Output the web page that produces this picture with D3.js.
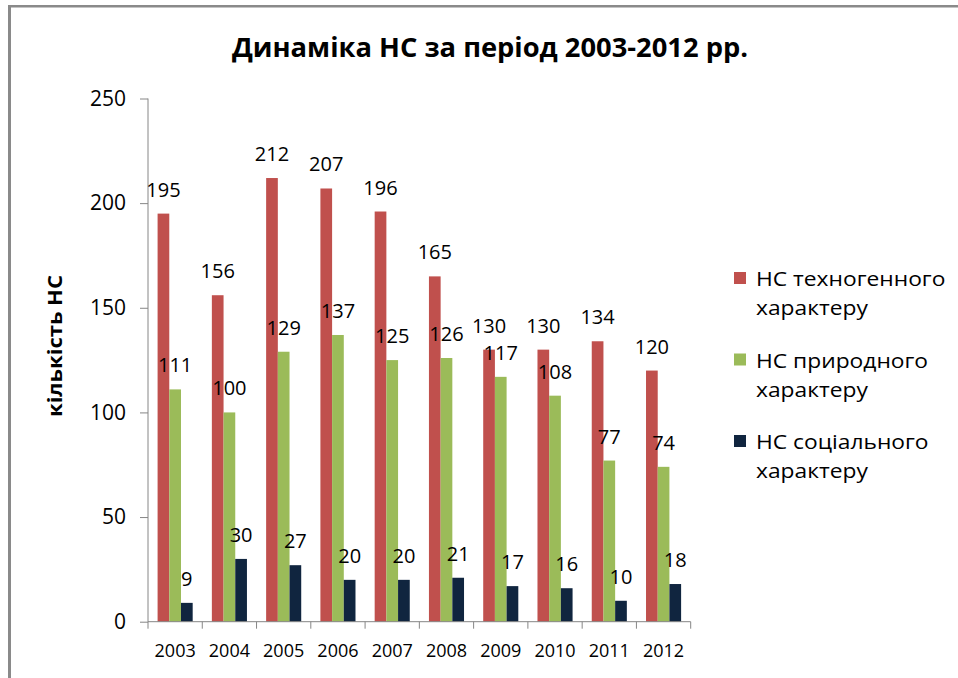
<!DOCTYPE html>
<html>
<head>
<meta charset="utf-8">
<script src="https://cdn.jsdelivr.net/npm/d3@7"></script>
<style>
  html, body { margin: 0; padding: 0; background: #fff; }
  svg { display: block; }
  text { font-family: "Open Sans", "Noto Sans", sans-serif; fill: #000; }
</style>
</head>
<body>
<svg id="chart" width="958" height="678"></svg>
<script>
const years = ["2003","2004","2005","2006","2007","2008","2009","2010","2011","2012"];
const seriesNames = ["НС техногенного характеру", "НС природного характеру", "НС соціального характеру"];
const legendLines = [["НС техногенного", "характеру"], ["НС природного", "характеру"], ["НС соціального", "характеру"]];
const techValues = [195, 156, 212, 207, 196, 165, 130, 130, 134, 120];
const naturalValues = [111, 100, 129, 137, 125, 126, 117, 108, 77, 74];
const socialValues = [9, 30, 27, 20, 20, 21, 17, 16, 10, 18];
const yTicks = [0, 50, 100, 150, 200, 250];
const colors = ["#C0504D", "#9BBB59", "#10253F"];
const chartTitle = "Динаміка НС за період 2003-2012 рр.";
const yTitle = "кількість НС";

(function () {
const allSeries = [techValues, naturalValues, socialValues];
const svg = d3.select("#chart");

// frame
svg.append("line").attr("x1", 9.5).attr("x2", 9.5).attr("y1", 5).attr("y2", 678)
  .attr("stroke", "#8a8a8a").attr("stroke-width", 3);
svg.append("line").attr("x1", 8).attr("x2", 958).attr("y1", 6.2).attr("y2", 6.2)
  .attr("stroke", "#8a8a8a").attr("stroke-width", 2.5);

const pLeft = 148, pRight = 690.7, pTop = 98.5, pBottom = 621.7;
const x0 = d3.scaleBand().domain(years).range([pLeft, pRight]).padding(0);
const x1 = d3.scaleBand().domain(d3.range(3)).range([0, x0.bandwidth()]).paddingInner(0).paddingOuter(0.82);
const y = d3.scaleLinear().domain([0, 250]).range([pBottom, pTop]);

// title
svg.append("text").attr("x", 232).attr("y", 57)
  .attr("font-size", 27).attr("font-weight", "bold")
  .attr("textLength", 516).attr("lengthAdjust", "spacingAndGlyphs")
  .text(chartTitle);

// y axis title
svg.append("text")
  .attr("transform", "translate(62,346) rotate(-90)")
  .attr("text-anchor", "middle")
  .attr("font-size", 19).attr("font-weight", "bold")
  .attr("textLength", 142).attr("lengthAdjust", "spacingAndGlyphs")
  .text(yTitle);

// y axis
const yAxis = d3.axisLeft(y).tickValues(yTicks).tickSize(8).tickPadding(14);
const gy = svg.append("g").attr("transform", `translate(${pLeft},0)`).call(yAxis);
gy.select(".domain").attr("stroke", "#868686").attr("d", `M0,${pBottom}V${pTop}`);
gy.selectAll(".tick line").attr("stroke", "#868686");
gy.selectAll(".tick text").attr("font-size", 21).attr("font-family", "'Open Sans', sans-serif").attr("fill", "#000");

// bars
allSeries.forEach((vals, si) => {
  svg.append("g").selectAll("rect").data(vals).join("rect")
    .attr("x", (d, i) => x0(years[i]) + x1(si))
    .attr("y", d => y(d))
    .attr("width", x1.bandwidth())
    .attr("height", d => pBottom - y(d))
    .attr("fill", colors[si]);
  svg.append("g").selectAll("text").data(vals).join("text")
    .attr("x", (d, i) => x0(years[i]) + x1(si) + x1.bandwidth() / 2)
    .attr("y", d => y(d) - 17)
    .attr("text-anchor", "middle")
    .attr("font-size", 20)
    .text(d => d);
});

// x axis
const gx = svg.append("g").attr("transform", `translate(0,${pBottom})`);
gx.append("line").attr("x1", pLeft).attr("x2", pRight).attr("y1", 0).attr("y2", 0).attr("stroke", "#868686");
const boundaries = years.map(yr => x0(yr)).concat([pRight]);
gx.selectAll("line.tk").data(boundaries).join("line").attr("class", "tk")
  .attr("x1", d => d).attr("x2", d => d).attr("y1", 0).attr("y2", 7).attr("stroke", "#868686");
gx.selectAll("text").data(years).join("text")
  .attr("x", d => x0(d) + x0.bandwidth() / 2)
  .attr("y", 35)
  .attr("text-anchor", "middle")
  .attr("font-size", 18)
  .text(d => d);

// legend
const legend = svg.append("g");
legendLines.forEach((lines, i) => {
  const ty = 272 + i * 81.5;
  legend.append("rect").attr("x", 734).attr("y", ty).attr("width", 12).attr("height", 12).attr("fill", colors[i]);
  lines.forEach((ln, j) => {
    legend.append("text")
      .attr("transform", `translate(756,${ty + 14 + j * 29}) scale(1.14,1)`)
      .attr("font-size", 20)
      .text(ln);
  });
});
})();
</script>
</body>
</html>
